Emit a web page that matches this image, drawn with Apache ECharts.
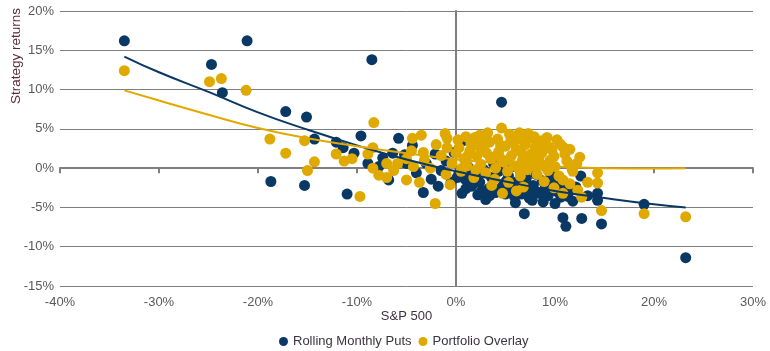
<!DOCTYPE html>
<html>
<head>
<meta charset="utf-8">
<script src="https://cdn.jsdelivr.net/npm/echarts@6/dist/echarts.min.js"></script>
<style>
html,body{margin:0;padding:0;background:#fff;}
#chart{width:770px;height:351px;}
</style>
</head>
<body>
<div id="chart"></div>
<script>
// S&P 500 monthly return (%) vs strategy return (%)
var putsPoints = [
[-33.5,16.2],[-24.7,13.2],[-23.6,9.6],[-21.1,16.2],[-17.2,7.2],[-15.1,6.5],[-14.3,3.7],[-12.1,3.3],[-11.4,2.6],[-10.3,1.9],
[-18.7,-1.7],[-15.3,-2.2],[-11.0,-3.3],[-9.6,4.1],[-8.5,13.8],[-8.9,0.6],[-7.4,1.3],[-6.4,1.9],[-5.8,3.8],[-5.2,1.7],
[-5.0,0.6],[-4.4,2.9],[-4.0,-0.6],[-3.3,-3.1],[-3.0,0.6],[-2.1,1.8],[-2.5,-1.4],[-1.5,-0.3],[-1.0,0.9],[-0.5,-1.8],
[-1.8,-2.3],[-6.8,-1.5],[-7.8,0.2],[-0.2,2.0],
[0.7,3.5],[0.6,-3.2],[0.3,-0.6],[0.9,-1.4],[1.0,-2.6],[1.2,0.2],[1.6,-2.3],[2.0,-0.9],[2.2,-3.4],[2.4,-1.8],
[2.8,-0.2],[3.0,-4.0],[3.3,-2.6],[3.6,-1.2],[3.8,0.6],[4.0,-3.1],[4.3,-0.4],[4.6,8.4],[4.8,-2.0],[5.0,-3.3],
[5.3,-1.0],[5.6,-2.6],[5.7,0.2],[5.9,-3.6],[6.0,-4.4],[6.2,-1.7],[6.5,-0.4],[6.8,-2.9],[6.9,-5.8],[7.1,-1.3],
[7.4,-3.8],[7.6,0.5],[7.7,-4.1],[7.8,-2.2],[8.1,-0.8],[8.4,-3.2],[8.7,-1.6],[8.8,-4.3],[9.0,-2.6],[9.2,0.0],
[9.3,-3.5],[9.6,-0.9],[9.9,-2.0],[10.0,-4.5],[10.2,-3.0],[10.5,-1.4],[10.8,-6.3],[10.9,-2.3],[11.1,-7.4],[11.3,-3.6],
[11.8,-4.2],[12.1,-2.4],[12.6,-1.0],[12.7,-6.4],[13.3,-3.5],[14.3,-3.2],[14.3,-4.1],[14.7,-7.1],[19.0,-4.6],[23.2,-11.4],
[1.5,-1.0],[2.6,-2.9],[4.5,-2.6],[5.1,-1.6],[6.6,-3.3],[8.0,-2.9],[9.5,-2.7],[10.6,-3.7],[11.5,-2.9],[3.4,-3.5],
[7.3,-3.0],[0.1,-1.2]
];
var overlayPoints = [
[-33.5,12.4],[-24.9,11.0],[-23.7,11.4],[-21.2,9.9],[-18.8,3.7],[-17.2,1.9],[-15.3,3.5],[-14.3,0.8],[-15.0,-0.3],[-12.1,1.8],
[-11.3,0.9],[-10.5,1.2],[-9.7,-3.6],[-8.9,1.8],[-8.4,2.6],[-8.3,5.8],[-8.4,0.0],[-7.0,0.6],[-7.0,-1.2],[-7.8,-0.9],
[-5.9,0.6],[-6.3,-0.3],[-5.0,1.2],[-4.4,3.8],[-3.5,4.2],[-3.3,2.0],[-4.3,0.2],[-3.7,-1.8],[-3.2,1.0],[-2.6,0.0],
[-2.1,-4.5],[-2.0,3.0],[-1.5,1.6],[-1.1,4.4],[-0.9,3.8],[-0.9,2.6],[-0.6,-2.1],[-0.4,0.6],[-1.0,-0.8],[-5.0,-1.5],
[-4.5,2.2],
[0.0,1.9],[0.2,3.6],[0.3,2.6],[0.5,-0.4],[0.6,0.0],[0.8,1.2],[1.0,4.0],[1.1,0.3],[1.4,2.2],[1.5,3.2],
[1.6,2.9],[1.8,-1.2],[2.0,-0.2],[2.1,1.5],[2.4,4.2],[2.5,0.5],[2.6,3.6],[2.8,2.5],[3.0,-0.6],[3.2,4.5],
[3.4,3.3],[3.5,1.2],[3.6,-2.2],[3.7,1.4],[3.9,-1.4],[4.0,0.0],[4.2,3.7],[4.3,2.1],[4.5,2.9],[4.6,5.1],
[4.7,-3.2],[4.8,0.8],[5.0,2.8],[5.2,-0.4],[5.3,-1.8],[5.5,3.3],[5.6,1.6],[5.8,4.0],[5.9,0.3],[6.1,2.4],
[6.1,-2.9],[6.3,0.0],[6.4,4.5],[6.5,-1.0],[6.7,1.0],[6.8,-2.4],[6.8,3.5],[7.0,3.0],[7.2,-0.2],[7.3,4.4],
[7.5,3.8],[7.6,1.8],[7.8,0.8],[8.0,2.6],[8.2,-0.8],[8.3,3.2],[8.4,1.4],[8.7,2.0],[8.7,0.4],[8.9,-1.7],
[9.0,3.0],[9.3,-0.3],[9.4,2.7],[9.5,1.0],[9.7,2.3],[9.9,-2.5],[10.0,0.2],[10.2,3.6],[10.4,-1.0],[10.8,2.7],
[10.8,-1.5],[10.8,-3.2],[11.2,0.9],[11.5,-2.0],[11.5,2.4],[11.7,0.0],[11.8,-0.4],[12.2,0.6],[12.3,-2.8],[12.5,1.4],
[12.7,-3.7],[13.3,-1.8],[14.3,-0.6],[14.3,-1.9],[14.7,-5.4],[19.0,-5.8],[23.2,-6.2],
[5.4,4.3],[6.0,3.6],[7.9,4.0],[8.6,3.5],[9.2,3.9],[10.5,3.1],[3.0,3.9],[1.9,3.9],[6.6,2.0],[7.4,1.2],
[8.1,0.2],[9.9,1.5],[11.0,1.8],[3.1,1.9],[2.3,2.8],[5.2,1.0],[6.9,0.4],[4.4,1.4],[1.2,1.6],[9.6,0.3]
];
// Trend lines
var putsTrend = [[-33.5,14.2],[-30,12.2],[-25,9.7],[-20,7.1],[-15,4.9],[-10,2.9],[-5,1.1],[0,-0.4],[5,-1.7],[10,-2.9],[15,-3.8],[20,-4.6],[23.2,-5.0]];
var overlayTrend = [[-33.5,9.9],[-30,8.6],[-25,6.8],[-20,5.1],[-15,3.8],[-10,2.8],[-5,1.9],[0,1.1],[5,0.6],[10,0.2],[15,0.0],[20,-0.05],[23.2,0.0]];
var seriesNames = ['Rolling Monthly Puts','Portfolio Overlay'];
var xAxisTitle = 'S&P 500';
var yAxisTitle = 'Strategy returns';

var NAVY = '#0a3864';
var GOLD = '#dfa900';
var GRIDC = '#7f7f7f';
var FONT = 'Liberation Sans, Arial, sans-serif';
function pct(v){ return v + '%'; }

var chart = echarts.init(document.getElementById('chart'), null, {renderer:'canvas'});
chart.setOption({
  animation: false,
  backgroundColor: '#ffffff',
  textStyle: {fontFamily: FONT},
  grid: {left: 60, right: 17, top: 11, bottom: 65, containLabel: false},
  legend: {
    data: seriesNames, left: 274, top: 330, icon: 'circle',
    itemWidth: 9, itemHeight: 9, itemGap: 7,
    textStyle: {fontSize: 13, color: '#3d3340', fontFamily: FONT}
  },
  graphic: [{
    type: 'text', left: 9, top: 8, rotation: Math.PI/2,
    style: {text: yAxisTitle, fontSize: 13.5, fill: '#5e2a36', fontFamily: FONT}
  }],
  xAxis: [{
    type: 'value', min: -40, max: 30, interval: 10, position: 'bottom',
    axisLine: {show: false, onZero: false}, axisTick: {show: false},
    axisLabel: {formatter: pct, color: '#595959', fontSize: 13, margin: 10, fontFamily: FONT},
    splitLine: {show: false},
    name: xAxisTitle, nameLocation: 'middle', nameGap: 24, nameMoveOverlap: false,
    nameTextStyle: {fontSize: 13, color: '#3d3340', fontFamily: FONT}
  },{
    type: 'value', min: -40, max: 30, interval: 10, position: 'bottom',
    axisLine: {show: true, onZero: true, onZeroAxisIndex: 0, lineStyle: {color: GRIDC, width: 2}},
    axisTick: {show: true, length: 5, lineStyle: {color: GRIDC, width: 2}},
    axisLabel: {show: false}, splitLine: {show: false}
  }],
  yAxis: [{
    type: 'value', min: -15, max: 20, interval: 5, position: 'left',
    axisLine: {show: false, onZero: false}, axisTick: {show: false},
    axisLabel: {formatter: pct, color: '#595959', fontSize: 13, margin: 6, fontFamily: FONT},
    splitLine: {show: true, lineStyle: {color: GRIDC, width: 1}}
  },{
    type: 'value', min: -15, max: 20, interval: 5, position: 'left',
    axisLine: {show: true, onZero: true, onZeroAxisIndex: 0, lineStyle: {color: GRIDC, width: 2}},
    axisTick: {show: false}, axisLabel: {show: false}, splitLine: {show: false}
  }],
  series: [{
    name: seriesNames[0], type: 'scatter', xAxisIndex: 0, yAxisIndex: 0,
    data: putsPoints, symbolSize: 11, itemStyle: {color: NAVY, opacity: 1}, z: 3
  },{
    name: seriesNames[1], type: 'scatter', xAxisIndex: 0, yAxisIndex: 0,
    data: overlayPoints, symbolSize: 11, itemStyle: {color: GOLD, opacity: 1}, z: 4
  },{
    name: 'Puts trend', type: 'line', xAxisIndex: 0, yAxisIndex: 0,
    data: putsTrend, smooth: true, showSymbol: false, symbol: 'none',
    lineStyle: {color: NAVY, width: 2}, z: 5
  },{
    name: 'Overlay trend', type: 'line', xAxisIndex: 0, yAxisIndex: 0,
    data: overlayTrend, smooth: true, showSymbol: false, symbol: 'none',
    lineStyle: {color: GOLD, width: 2}, z: 6
  }]
});
</script>
</body>
</html>
